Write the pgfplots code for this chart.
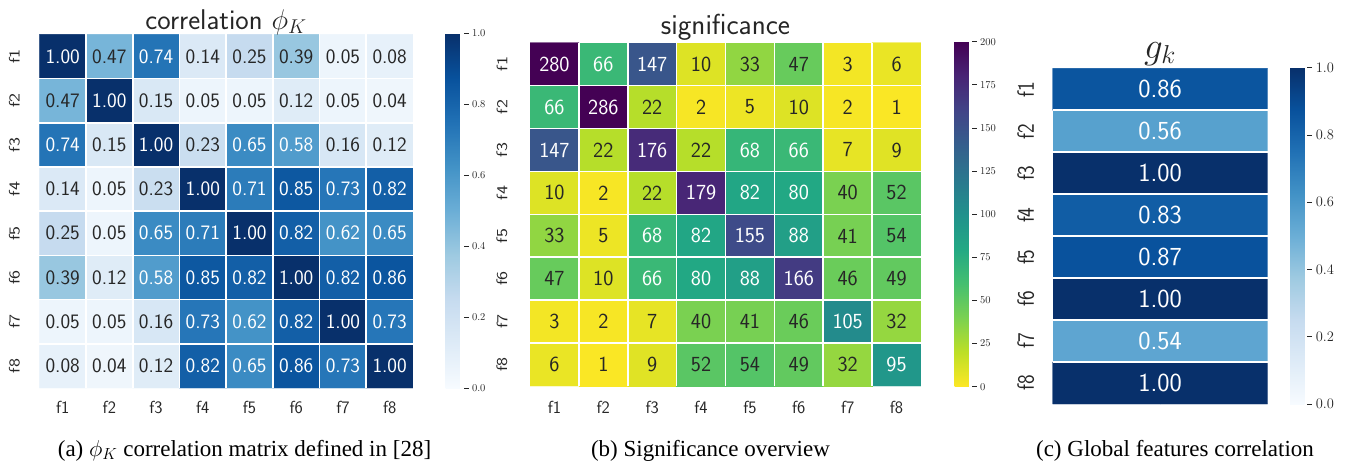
\RequirePackage{fix-cm}
\documentclass[border=0pt]{standalone}
\usepackage{pgfplots}
\pgfplotsset{compat=1.18}
\usepackage{pgfplotstable}
\usepackage{graphicx}
\usepackage{fontspec}
\newfontfamily\capfont{Liberation Serif}
\definecolor{txt}{RGB}{38,38,38}
\pgfplotsset{
  colormap={blues}{rgb255=(247,251,255) rgb255=(222,235,247) rgb255=(198,219,239) rgb255=(158,202,225) rgb255=(107,174,214) rgb255=(66,146,198) rgb255=(33,113,181) rgb255=(8,81,156) rgb255=(8,48,107)},
  colormap={viridisr}{rgb255=(253,231,37) rgb255=(189,223,38) rgb255=(122,209,81) rgb255=(68,191,112) rgb255=(34,168,132) rgb255=(33,145,140) rgb255=(42,120,142) rgb255=(53,95,141) rgb255=(65,68,135) rgb255=(72,36,117) rgb255=(68,1,84)},
}
\newcommand\sqA[1]{\scalebox{1}[0.8]{#1}}
\newcommand\sqC[1]{\scalebox{1}[1.15]{#1}}

\pgfplotstableread{
x y v
0 0 1.00
1 0 0.47
2 0 0.74
3 0 0.14
4 0 0.25
5 0 0.39
6 0 0.05
7 0 0.08
0 1 0.47
1 1 1.00
2 1 0.15
3 1 0.05
4 1 0.05
5 1 0.12
6 1 0.05
7 1 0.04
0 2 0.74
1 2 0.15
2 2 1.00
3 2 0.23
4 2 0.65
5 2 0.58
6 2 0.16
7 2 0.12
0 3 0.14
1 3 0.05
2 3 0.23
3 3 1.00
4 3 0.71
5 3 0.85
6 3 0.73
7 3 0.82
0 4 0.25
1 4 0.05
2 4 0.65
3 4 0.71
4 4 1.00
5 4 0.82
6 4 0.62
7 4 0.65
0 5 0.39
1 5 0.12
2 5 0.58
3 5 0.85
4 5 0.82
5 5 1.00
6 5 0.82
7 5 0.86
0 6 0.05
1 6 0.05
2 6 0.16
3 6 0.73
4 6 0.62
5 6 0.82
6 6 1.00
7 6 0.73
0 7 0.08
1 7 0.04
2 7 0.12
3 7 0.82
4 7 0.65
5 7 0.86
6 7 0.73
7 7 1.00
}\dataA

\pgfplotstableread{
x y v
0 0 280
1 0 66
2 0 147
3 0 10
4 0 33
5 0 47
6 0 3
7 0 6
0 1 66
1 1 286
2 1 22
3 1 2
4 1 5
5 1 10
6 1 2
7 1 1
0 2 147
1 2 22
2 2 176
3 2 22
4 2 68
5 2 66
6 2 7
7 2 9
0 3 10
1 3 2
2 3 22
3 3 179
4 3 82
5 3 80
6 3 40
7 3 52
0 4 33
1 4 5
2 4 68
3 4 82
4 4 155
5 4 88
6 4 41
7 4 54
0 5 47
1 5 10
2 5 66
3 5 80
4 5 88
5 5 166
6 5 46
7 5 49
0 6 3
1 6 2
2 6 7
3 6 40
4 6 41
5 6 46
6 6 105
7 6 32
0 7 6
1 7 1
2 7 9
3 7 52
4 7 54
5 7 49
6 7 32
7 7 95
}\dataB

\pgfplotstableread{
x y v
0 0 0.86
1 0 0.86
0 1 0.56
1 1 0.56
0 2 1.00
1 2 1.00
0 3 0.83
1 3 0.83
0 4 0.87
1 4 0.87
0 5 1.00
1 5 1.00
0 6 0.54
1 6 0.54
0 7 1.00
1 7 1.00
}\dataC

\pgfplotstableread{
x y v
0.5 0 0.86
0.5 1 0.56
0.5 2 1.00
0.5 3 0.83
0.5 4 0.87
0.5 5 1.00
0.5 6 0.54
0.5 7 1.00
}\dataCl

\pgfplotsset{
  heat/.style={
    scale only axis, enlargelimits=false,
    y dir=reverse, ymin=-0.5, ymax=7.5,
    axis line style={draw=none}, major tick style={draw=none},
    minor tick length=0pt,
    minor ytick={0.5,1.5,2.5,3.5,4.5,5.5,6.5},
    yminorgrids=true,
    minor grid style={white, line width=1.6pt},
    axis on top,
    ytick={0,...,7},
    tick label style={text=txt},
  },
  cbar/.style={
    colorbar style={
      scale only axis,
      at={(parent axis.north east)}, anchor=north west,
      axis line style={draw=none},
      ytick pos=right, yticklabel pos=right,
      tick align=outside, major tick length=5pt,
      major tick style={txt, line width=0.9pt},
      yticklabel style={text=txt},
    },
  },
  lab/.style={draw=none, mark=none, point meta=explicit symbolic,
    nodes near coords, nodes near coords align=center,
    every node near coord/.append style={font=#1, inner sep=0pt, anchor=center}},
}

\begin{document}
\begin{tikzpicture}
\useasboundingbox (0,0) rectangle (1345pt,467pt);

% ---------------- (a)
\begin{axis}[heat, cbar,
  at={(39.3pt,79pt)}, anchor=south west,
  width=373.7pt, height=353.7pt,
  xmin=-0.5, xmax=7.5,
  minor xtick={0.5,1.5,2.5,3.5,4.5,5.5,6.5}, xminorgrids=true,
  xtick={0,...,7}, xticklabels={f1,f2,f3,f4,f5,f6,f7,f8},
  yticklabels={\sqA{f1},\sqA{f2},\sqA{f3},\sqA{f4},\sqA{f5},\sqA{f6},\sqA{f7},\sqA{f8}},
  xticklabel style={font=\sffamily\fontsize{17.5}{17.5}\selectfont, anchor=center, yshift=-19pt},
  yticklabel style={font=\sffamily\fontsize{19}{19}\selectfont, anchor=center, xshift=-25pt, rotate=90},
  colormap name=blues, point meta min=0, point meta max=1,
  colorbar,
  colorbar style={xshift=24pt, yshift=1pt, width=18pt, height=355pt,
    ytick={0,0.2,0.4,0.6,0.8,1},
    yticklabel style={font=\fontsize{10.5}{10.5}\selectfont,
      /pgf/number format/fixed, /pgf/number format/fixed zerofill, /pgf/number format/precision=1}},
]
\addplot[matrix plot*, mesh/cols=8, point meta=explicit] table[x=x,y=y,meta=v]{\dataA};
\addplot[lab={\sffamily\fontsize{20.5}{20.5}\selectfont\color{white}},
  restrict expr to domain={\thisrow{v}}{0.5:2}] table[x=x,y=y,meta=v]{\dataA};
\addplot[lab={\sffamily\fontsize{20.5}{20.5}\selectfont\color{txt}},
  restrict expr to domain={\thisrow{v}}{-1:0.5}] table[x=x,y=y,meta=v]{\dataA};
\end{axis}

% ---------------- (b)
\begin{axis}[heat, cbar,
  at={(530pt,81pt)}, anchor=south west,
  width=391pt, height=343.3pt,
  xmin=-0.5, xmax=7.5,
  minor xtick={0.5,1.5,2.5,3.5,4.5,5.5,6.5}, xminorgrids=true,
  xtick={0,...,7}, xticklabels={f1,f2,f3,f4,f5,f6,f7,f8},
  yticklabels={\sqA{f1},\sqA{f2},\sqA{f3},\sqA{f4},\sqA{f5},\sqA{f6},\sqA{f7},\sqA{f8}},
  xticklabel style={font=\sffamily\fontsize{17.5}{17.5}\selectfont, anchor=center, yshift=-21pt},
  yticklabel style={font=\sffamily\fontsize{19}{19}\selectfont, anchor=center, xshift=-28pt, rotate=90},
  colormap name=viridisr, point meta min=0, point meta max=200,
  colorbar,
  colorbar style={xshift=25pt, yshift=1pt, width=17pt, height=345pt,
    ytick={0,25,50,75,100,125,150,175,200},
    yticklabel style={font=\fontsize{10.5}{10.5}\selectfont}},
]
\addplot[matrix plot*, mesh/cols=8, point meta=explicit] table[x=x,y=y,meta=v]{\dataB};
\addplot[lab={\sffamily\fontsize{21.5}{21.5}\selectfont\color{white}},
  restrict expr to domain={\thisrow{v}}{60:400}] table[x=x,y=y,meta=v]{\dataB};
\addplot[lab={\sffamily\fontsize{21.5}{21.5}\selectfont\color{txt}},
  restrict expr to domain={\thisrow{v}}{-1:60}] table[x=x,y=y,meta=v]{\dataB};
\end{axis}

% ---------------- (c)
\begin{axis}[heat, cbar,
  at={(1052.7pt,63pt)}, anchor=south west,
  width=215pt, height=335.7pt,
  xmin=-0.5, xmax=1.5,
  xtick=\empty,
  yticklabels={\sqC{f1},\sqC{f2},\sqC{f3},\sqC{f4},\sqC{f5},\sqC{f6},\sqC{f7},\sqC{f8}},
  yticklabel style={font=\sffamily\fontsize{20.5}{20.5}\selectfont, anchor=center, xshift=-27pt, rotate=90},
  colormap name=blues, point meta min=0, point meta max=1,
  colorbar,
  colorbar style={xshift=14pt, yshift=0.5pt, width=17pt, height=336.3pt,
    ytick={0,0.2,0.4,0.6,0.8,1},
    yticklabel style={font=\fontsize{14.5}{14.5}\selectfont,
      /pgf/number format/fixed, /pgf/number format/fixed zerofill, /pgf/number format/precision=1}},
]
\addplot[matrix plot*, mesh/cols=2, point meta=explicit] table[x=x,y=y,meta=v]{\dataC};
\addplot[lab={\sffamily\fontsize{26}{26}\selectfont\color{white}}] table[x=x,y=y,meta=v]{\dataCl};
\end{axis}

% titles
\node[anchor=base, text=txt, inner sep=0pt, font=\sffamily\fontsize{28.5}{28.5}\selectfont] at (226pt,437.7pt) {correlation $\phi_K$};
\node[anchor=base, text=txt, inner sep=0pt, font=\sffamily\fontsize{29}{29}\selectfont] at (725.5pt,432pt) {significance};
\node[anchor=base, text=txt, inner sep=0pt, font=\fontsize{37}{37}\selectfont] at (1160pt,408.7pt) {$g_k$};

% captions
\node[anchor=base, inner sep=0pt, font=\capfont\fontsize{23}{23}\selectfont] at (244.5pt,10.5pt) {(a) $\phi_K$ correlation matrix defined in [28]};
\node[anchor=base, inner sep=0pt, font=\capfont\fontsize{23}{23}\selectfont] at (710.5pt,10.5pt) {(b) Significance overview};
\node[anchor=base, inner sep=0pt, font=\capfont\fontsize{23}{23}\selectfont] at (1175pt,10.5pt) {(c) Global features correlation};
\end{tikzpicture}
\end{document}
